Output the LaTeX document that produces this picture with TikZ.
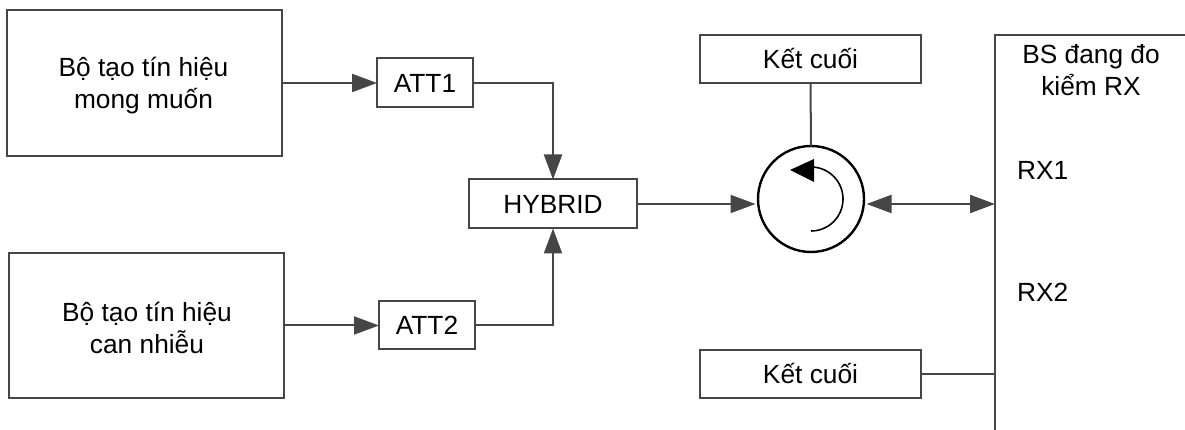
\documentclass[tikz,border=0pt]{standalone}
\usepackage{fontspec}
\setmainfont{Liberation Sans}
\usetikzlibrary{arrows.meta}
\definecolor{ln}{HTML}{464646}
\tikzset{
  x=1pt,y=1pt,
  txt/.style={font=\fontsize{26.3}{32}\selectfont,align=center,text=black,inner sep=0pt},
  boxnode/.style={draw=ln,line width=2pt,fill=white,inner sep=0pt,outer sep=0pt,txt},
  conn/.style={draw=ln,line width=2pt},
  tip/.style={-{Triangle[length=25pt,width=18pt,fill=ln,color=ln]}},
  bothtip/.style={{Triangle[length=25pt,width=18pt,fill=ln,color=ln]}-{Triangle[length=25pt,width=18pt,fill=ln,color=ln]}}
}
\begin{document}
\begin{tikzpicture}
\useasboundingbox (0,0) rectangle (1185,430);
\node[boxnode,minimum width=275pt,minimum height=146pt] (sigA) at (144.5,347) {};
\node[txt] (sigAtext) at (143.5,344) {Bộ tạo tín hiệu\\mong muốn};
\node[boxnode,minimum width=275pt,minimum height=145pt] (sigB) at (146.5,104.5) {};
\node[txt] (sigBtext) at (147,102) {Bộ tạo tín hiệu\\can nhiễu};
\node[boxnode,minimum width=96pt,minimum height=49pt] (attA) at (425,347) {ATT1};
\node[boxnode,minimum width=96pt,minimum height=48pt] (attB) at (427,104.5) {ATT2};
\node[boxnode,minimum width=168pt,minimum height=49pt] (hyb) at (553,226) {HYBRID};
\node[boxnode,minimum width=221pt,minimum height=48pt] (ketA) at (810.5,371) {Kết cuối};
\node[boxnode,minimum width=221pt,minimum height=48pt] (ketB) at (810.5,56) {Kết cuối};
\node[circle,draw=black,line width=2.4pt,minimum size=106pt,inner sep=0pt,outer sep=0pt] (circ) at (811,231) {};
\coordinate (bsTop) at (995,395);
\coordinate (bsBot) at (995,0);
\coordinate (bsEnd) at (1185,395);
\draw[conn] (bsBot) -- (bsTop) -- (bsEnd);
\node[txt,anchor=center] (bsLabel) at (1091,360) {BS đang đo\\kiểm RX};
\node[txt,anchor=base west] (rxA) at (1017,250) {RX1};
\node[txt,anchor=base west] (rxB) at (1017,128) {RX2};
\draw[conn,tip] (sigA.east) -- (attA.west);
\draw[conn,tip] (sigB.east) -- (attB.west);
\draw[conn,tip] (attA.east) -| (hyb.north);
\draw[conn,tip] (attB.east) -| (hyb.south);
\draw[conn,tip,shorten >=2.5pt] (hyb.east) -- (circ.west |- hyb.east);
\draw[conn,bothtip,shorten <=2.5pt] (circ.east |- hyb.east) -- (bsTop |- hyb.east);
\draw[conn] (ketA.south) -- (circ.north);
\draw[conn] (ketB.east) -- (bsTop |- ketB.east);
% circulator rotation mark
\draw[black,line width=1.6pt] (811,199) arc[start angle=-90,end angle=90,radius=32];
\fill[black] (790,260) -- (814,271) -- (814,248) -- cycle;
\end{tikzpicture}
\end{document}
